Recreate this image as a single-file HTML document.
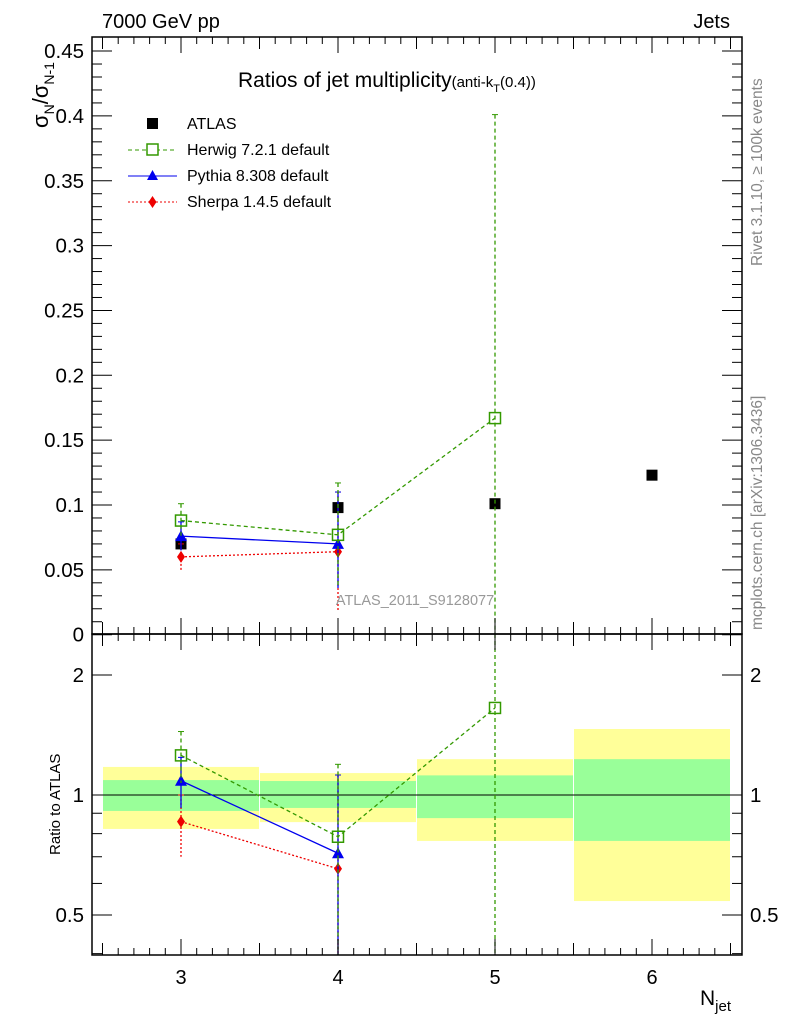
<!DOCTYPE html>
<html><head><meta charset="utf-8"><style>
body{margin:0;background:#fff}
svg{display:block;font-family:"Liberation Sans",sans-serif}
</style></head><body>
<svg id="c" width="786" height="1024" xmlns="http://www.w3.org/2000/svg">
<g id="bands"></g>
<g id="marks"></g>
<g id="axes"></g>
<text x="102" y="28" font-size="20">7000 GeV pp</text>
<text x="730" y="28" font-size="20" text-anchor="end">Jets</text>
<text x="238" y="87" font-size="21">Ratios of jet multiplicity<tspan font-size="15">(anti-k</tspan><tspan font-size="11" dy="5">T</tspan><tspan font-size="15" dy="-5">(0.4))</tspan></text>
<text x="415" y="605" font-size="14.5" fill="#999" text-anchor="middle">ATLAS_2011_S9128077</text>
<text transform="translate(762,266) rotate(-90)" font-size="15.5" fill="#888">Rivet 3.1.10, ≥ 100k events</text>
<text transform="translate(762,630) rotate(-90)" font-size="15.5" fill="#888">mcplots.cern.ch [arXiv:1306.3436]</text>
<text transform="translate(48,128) rotate(-90)" font-size="22">σ<tspan font-size="14" dy="6">N</tspan><tspan dy="-6">/σ</tspan><tspan font-size="14" dy="6">N-1</tspan></text>
<text transform="translate(60,855) rotate(-90)" font-size="15">Ratio to ATLAS</text>
<text x="700" y="1005" font-size="21">N<tspan font-size="15" dy="6">jet</tspan></text>
<g id="legend">
<rect x="147" y="118" width="11" height="11" fill="#000"/>
<text x="187" y="129" font-size="16">ATLAS</text>
<line x1="128" y1="150" x2="177" y2="150" stroke="#339900" stroke-dasharray="4,3"/>
<rect x="147" y="144" width="11" height="11" fill="#fff" stroke="#339900" stroke-width="1.5"/>
<text x="187" y="155" font-size="16">Herwig 7.2.1 default</text>
<line x1="128" y1="176" x2="177" y2="176" stroke="#0000ee"/>
<polygon points="152.5,170 158,180 147,180" fill="#0000ee"/>
<text x="187" y="181" font-size="16">Pythia 8.308 default</text>
<line x1="128" y1="202" x2="177" y2="202" stroke="#ee0000" stroke-dasharray="2,2"/>
<polygon points="152.5,196 156.5,202 152.5,208 148.5,202" fill="#ee0000"/>
<text x="187" y="207" font-size="16">Sherpa 1.4.5 default</text>
</g>
</svg>
<script>
const categories=[3,4,5,6];
const atlas=[0.070,0.098,0.101,0.123];
const herwig=[0.088,0.077,0.167];
const herwigUp=[0.101,0.117,0.401];
const herwigDn=[0.075,0.038,-0.1];
const pythia=[0.076,0.070];
const pythiaUp=[0.087,0.110];
const pythiaDn=[0.065,0.036];
const sherpa=[0.060,0.064];
const sherpaUp=[0.070,0.110];
const sherpaDn=[0.049,0.018];
const bandYelLo=[0.822,0.855,0.767,0.542];
const bandYelHi=[1.176,1.135,1.23,1.464];
const bandGrnLo=[0.912,0.928,0.875,0.767];
const bandGrnHi=[1.09,1.084,1.12,1.23];
const yTicks=[0,0.05,0.1,0.15,0.2,0.25,0.3,0.35,0.4,0.45];
const yTickLabels=["0","0.05","0.1","0.15","0.2","0.25","0.3","0.35","0.4","0.45"];
const rTicks=[0.5,1,2];
const rTickLabels=["0.5","1","2"];
const xTickLabels=["3","4","5","6"];

const NS="http://www.w3.org/2000/svg";
const L=92,R=742,T=37,M=634,B=955;
const X=v=>181+(v-3)*157;
const Y=v=>634.7-v*1297;
const RY=v=>795-Math.log2(v)*120;
const clampM=y=>Math.max(T,Math.min(M,y));
const clampR=y=>Math.max(M,Math.min(B,y));
function mk(tag,a,parent){const e=document.createElementNS(NS,tag);for(const k in a)e.setAttribute(k,a[k]);document.getElementById(parent).appendChild(e);return e;}

for(let i=0;i<categories.length;i++){
 const x0=X(categories[i]-0.5)+0.5,x1=X(categories[i]+0.5)-0.5;
 let e=mk('rect',{x:x0,y:RY(bandYelHi[i]),width:x1-x0,height:RY(bandYelLo[i])-RY(bandYelHi[i]),fill:'#ffff99'},'bands');
 
 
 e=mk('rect',{x:x0,y:RY(bandGrnHi[i]),width:x1-x0,height:RY(bandGrnLo[i])-RY(bandGrnHi[i]),fill:'#99ff99'},'bands');
 
 
}
let ref=mk('line',{x1:L,x2:R,y1:RY(1),y2:RY(1),stroke:'#000'},'bands');



function series(vals,up,dn,color,dash,marker,name,ratio){
 const pts=[];
 for(let i=0;i<vals.length;i++){
  const a=ratio?atlas[i]:1;
  const yv=ratio?clampR(RY(Math.max(vals[i]/a,1e-3))):clampM(Y(vals[i]));
  const yu=ratio?clampR(RY(Math.max(up[i]/a,1e-3))):clampM(Y(up[i]));
  const yd=ratio?clampR(RY(Math.max(dn[i]/a,1e-3))):clampM(Y(dn[i]));
  const x=X(categories[i]);pts.push(x+','+yv);
  let e=mk('line',{x1:x,x2:x,y1:yu,y2:yd,stroke:color,'stroke-width':1.3,'stroke-dasharray':dash},'marks');
  
  
  e=mk('line',{x1:x-3,x2:x+3,y1:yu,y2:yu,stroke:color},'marks');
  
  
 }
 let l=mk('polyline',{points:pts.join(' '),fill:'none',stroke:color,'stroke-width':1.3,'stroke-dasharray':dash},'marks');
 
 
 pts.forEach(p=>{const [x,y]=p.split(',').map(Number);let e;
  if(marker==='sq')e=mk('rect',{x:x-5.5,y:y-5.5,width:11,height:11,fill:'#fff','fill-opacity':0,stroke:color,'stroke-width':1.5},'marks');
  else if(marker==='tri')e=mk('polygon',{points:`${x},${y-6} ${x+6},${y+5} ${x-6},${y+5}`,fill:color},'marks');
  else e=mk('polygon',{points:`${x},${y-6} ${x+4},${y} ${x},${y+6} ${x-4},${y}`,fill:color},'marks');
  
  
 });
}
for(let i=0;i<categories.length;i++){
 const e=mk('rect',{x:X(categories[i])-5.5,y:Y(atlas[i])-5.5,width:11,height:11,fill:'#000'},'marks');
 
 
}
series(sherpa,sherpaUp,sherpaDn,'#ee0000','2,2','dia','sherpa',false);
series(pythia,pythiaUp,pythiaDn,'#0000ee','','tri','pythia',false);
series(herwig,herwigUp,herwigDn,'#339900','4,3','sq','herwig',false);
series(sherpa,sherpaUp,sherpaDn,'#ee0000','2,2','dia','sherpa-ratio',true);
series(pythia,pythiaUp,pythiaDn,'#0000ee','','tri','pythia-ratio',true);
series(herwig,herwigUp,herwigDn,'#339900','4,3','sq','herwig-ratio',true);

function ln(x1,y1,x2,y2,n){const e=mk('line',{x1,y1,x2,y2,stroke:'#000','stroke-width':1},'axes');}
function tx(x,y,s,anc,fs,n){const e=mk('text',{x,y,'font-size':fs,'text-anchor':anc},'axes');e.textContent=s;}
let fr=mk('rect',{x:L,y:T,width:R-L,height:M-T,fill:'none',stroke:'#000','stroke-width':1.5},'axes');


fr=mk('rect',{x:L,y:M,width:R-L,height:B-M,fill:'none',stroke:'#000','stroke-width':1.5},'axes');


for(let v=0;v<=0.46;v+=0.01){const y=Y(v);if(y<T)break;const maj=Math.abs(v/0.05-Math.round(v/0.05))<1e-6;const len=maj?20:10;
 ln(L,y,L+len,y,'y-tick');ln(R,y,R-len,y,'y-tick-right');}
yTicks.forEach((v,i)=>tx(L-8,Y(v)+7,yTickLabels[i],'end',20.5,'y-tick-label'));
for(let v=2.5;v<=6.55;v+=0.1){const x=X(v);if(x<L)continue;const r=Math.round(v*10)/10;const maj=Math.abs(r-Math.round(r))<1e-6;const mid=Math.abs(r*2-Math.round(r*2))<1e-6;const len=maj?16:(mid?12:7);
 ln(x,M,x,M-len,'x-tick');ln(x,T,x,T+len,'x-tick-top');ln(x,B,x,B-len,'ratio-x-tick');ln(x,M,x,M+len,'ratio-x-tick-top');}
categories.forEach((c,i)=>tx(X(c),984,xTickLabels[i],'middle',20,'x-tick-label'));
const rminor=[0.4,0.5,0.6,0.7,0.8,0.9,1,2];
rminor.forEach(v=>{const y=RY(v);const maj=rTicks.includes(v);const len=maj?20:10;ln(L,y,L+len,y,'ratio-y-tick');ln(R,y,R-len,y,'ratio-y-tick-right');});
rTicks.forEach((v,i)=>{tx(L-8,RY(v)+7,rTickLabels[i],'end',20.5,'ratio-y-tick-label');tx(R+8,RY(v)+7,rTickLabels[i],'start',20.5,'ratio-y-tick-label-right');});
</script>
</body></html>
